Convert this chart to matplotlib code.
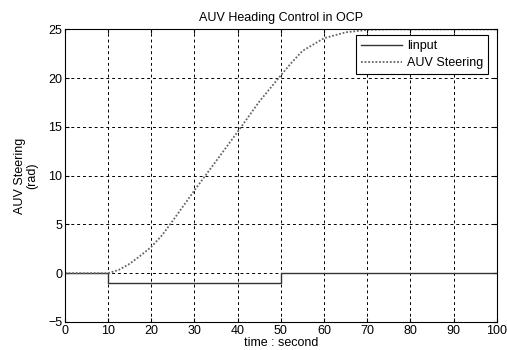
import matplotlib
matplotlib.use("Agg")
import matplotlib.pyplot as plt

# input signal (step)
input_t = [0, 10, 10, 50, 50, 100]
input_v = [0, 0, -1, -1, 0, 0]

# AUV steering response
steer_t = [0, 10, 12.5, 15, 17.5, 20, 22.5, 25, 30, 35, 40, 45, 50, 52.5, 55, 60, 65, 70, 75, 80, 90, 100]
steer_v = [0, 0, 0.35, 0.97, 1.8, 2.7, 3.9, 5.4, 8.5, 11.5, 14.5, 17.6, 20.3, 21.6, 22.8, 24.1, 24.7, 24.95, 25, 25, 25, 25]

xticks = list(range(0, 101, 10))
yticks = [-5, 0, 5, 10, 15, 20, 25]

plt.rcParams['font.family'] = ['Liberation Sans', 'DejaVu Sans']
fs = 9

fig = plt.figure(figsize=(5.07, 3.5), dpi=100)
ax = fig.add_axes([0.128, 0.08, 0.852, 0.836])

ax.plot(input_t, input_v, color='#333333', linewidth=1.0, label='linput')
ax.plot(steer_t, steer_v, color='#666666', linewidth=1.3, linestyle=(0, (1, 1)),
        label='AUV Steering')

ax.set_xlim(0, 100)
ax.set_ylim(-5, 25)
ax.set_xticks(xticks)
ax.set_yticks(yticks)
ax.grid(True, color='black', linestyle=(0, (3, 3)), linewidth=0.7)
ax.tick_params(direction='in', top=True, right=True, length=3, labelsize=fs, pad=2)
for s in ax.spines.values():
    s.set_linewidth(0.8)

ax.set_title("AUV Heading Control in OCP", fontsize=fs, pad=6)
ax.set_xlabel("time : second", fontsize=fs, labelpad=0)
ax.set_ylabel("AUV Steering\n(rad)", fontsize=fs, labelpad=7, linespacing=1.0)

leg = ax.legend(loc='upper right', bbox_to_anchor=(0.98, 0.98), fontsize=fs,
                frameon=True, fancybox=False, handlelength=3.3, borderpad=0.4,
                labelspacing=0.4, handletextpad=0.4, borderaxespad=0)
leg.get_frame().set_edgecolor('black')
leg.get_frame().set_linewidth(0.8)
leg.get_frame().set_alpha(1)

fig.savefig("out.png", dpi=100)
plt.close(fig)
